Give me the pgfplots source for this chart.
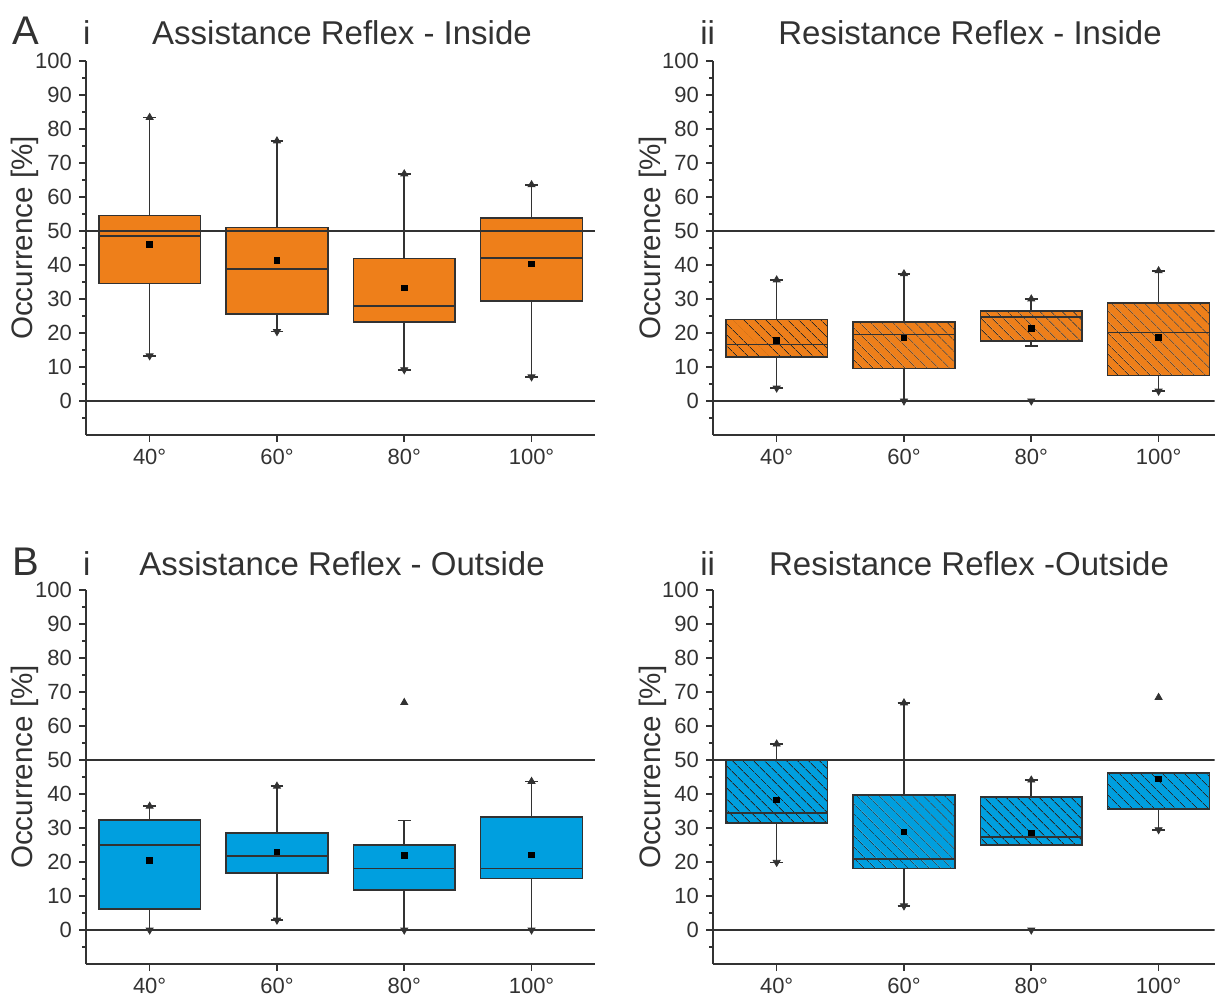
\documentclass[border=0pt]{standalone}
\usepackage{fontspec}
\setmainfont{Liberation Sans}
\usepackage{pgfplots}
\pgfplotsset{compat=1.18}
\usepgfplotslibrary{statistics}
\usetikzlibrary{patterns.meta}

\definecolor{boxorange}{RGB}{238,127,26}
\definecolor{boxblue}{RGB}{0,159,223}
\definecolor{edge}{RGB}{50,50,50}
\definecolor{hatch}{RGB}{40,40,40}

\pgfplotsset{
  panel/.style={
    scale only axis, height=187pt,
    xmin=-0.5, ymin=-10, ymax=100,
    axis x line*=bottom, axis y line*=left,
    axis line style={edge, line width=0.8pt, -},
    every tick/.style={edge, line width=0.8pt},
    tick align=outside, major tick length=3.5pt, minor tick length=2pt,
    xtick={0,1,2,3}, xticklabels={40°,60°,80°,100°},
    ytick={0,10,...,100}, minor ytick={-5,5,...,95},
    ticklabel style={font=\fontsize{11}{13}\selectfont, text=edge},
    /pgf/number format/assume math mode=true,
    ylabel={Occurrence [\%]},
    % the label is rotated, so its own y direction points left
    ylabel style={font=\fontsize{14.8}{17}\selectfont, text=edge,
      at={(rel axis cs:0,0.527)}, anchor=base, yshift=26.5pt},
    boxplot/draw direction=y,
  },
  solidbox/.style={fill=#1, draw=edge, line width=0.8pt},
  hatchbox/.style={fill=#1, draw=edge, line width=0.8pt,
    boxplot/every box/.style={postaction={pattern={Lines[angle=-45,distance=4pt,line width=0.45pt]}, pattern color=hatch}}},
  meanmark/.style={only marks, mark=square*, mark size=1.4pt, black},
  maxmark/.style={only marks, mark=triangle*, mark size=2pt, edge},
  minmark/.style={only marks, mark=triangle*, mark size=2pt, edge, mark options={rotate=180}},
  refline/.style={edge, line width=0.7pt},
}

% box: style, position, lower whisker, lower quartile, median, upper quartile, upper whisker
\newcommand{\bx}[7]{%
  \addplot[#1, boxplot prepared={draw direction=y, draw position=#2, box extend=0.8, whisker extend=0.1,
    lower whisker=#3, lower quartile=#4, median=#5, upper quartile=#6, upper whisker=#7}]
    coordinates {};}

\newcommand{\paneltitle}[4]{%
  \node[anchor=base west, inner sep=0, font=\fontsize{20}{24}\selectfont, text=edge] at (6pt,#1) {#2};
  \node[anchor=base, inner sep=0, font=\fontsize{16.5}{20}\selectfont, text=edge] at (#3,#1) {#4};}

\begin{document}
\begin{tikzpicture}
\useasboundingbox (0,0) rectangle (607.5pt,-499.5pt);

% ---------- A i ----------
\begin{axis}[panel, at={(43pt,-30.5pt)}, anchor=north west, width=254.6pt, xmax=3.5]
  \bx{solidbox=boxorange}{0}{13.3}{34.5}{48.5}{54.5}{83.4}
  \bx{solidbox=boxorange}{1}{20.4}{25.6}{38.8}{51.0}{76.5}
  \bx{solidbox=boxorange}{2}{9.2}{23.3}{28.0}{41.9}{66.8}
  \bx{solidbox=boxorange}{3}{7.1}{29.4}{42.1}{53.8}{63.6}
  \addplot[refline] coordinates {(-0.5,0) (3.5,0)};
  \addplot[refline] coordinates {(-0.5,50) (3.5,50)};
  \addplot[meanmark] coordinates {(0,46.1) (1,41.4) (2,33.3) (3,40.3)};
  \addplot[maxmark] coordinates {(0,83.4) (1,76.5) (2,66.8) (3,63.6)};
  \addplot[minmark] coordinates {(0,13.3) (1,20.4) (2,9.2) (3,7.1)};
\end{axis}

% ---------- A ii ----------
\begin{axis}[panel, at={(356.5pt,-30.5pt)}, anchor=north west, width=250.8pt, xmax=3.44]
  \bx{hatchbox=boxorange}{0}{3.8}{13.0}{16.6}{24.0}{35.6}
  \bx{hatchbox=boxorange}{1}{0}{9.5}{19.5}{23.2}{37.4}
  \bx{hatchbox=boxorange}{2}{16.1}{17.6}{24.7}{26.5}{30.0}
  \bx{hatchbox=boxorange}{3}{2.9}{7.5}{20.1}{28.9}{38.3}
  \addplot[refline] coordinates {(-0.5,0) (3.5,0)};
  \addplot[refline] coordinates {(-0.5,50) (3.5,50)};
  \addplot[meanmark] coordinates {(0,17.9) (1,18.5) (2,21.4) (3,18.7)};
  \addplot[maxmark] coordinates {(0,35.6) (1,37.4) (2,30.0) (3,38.3)};
  \addplot[minmark] coordinates {(0,3.8) (1,0) (2,0) (3,2.9)};
\end{axis}

% ---------- B i ----------
\begin{axis}[panel, at={(43pt,-295pt)}, anchor=north west, width=254.6pt, xmax=3.5]
  \bx{solidbox=boxblue}{0}{0}{6.1}{25.0}{32.4}{36.4}
  \bx{solidbox=boxblue}{1}{2.9}{16.7}{21.8}{28.5}{42.3}
  \bx{solidbox=boxblue}{2}{0}{11.8}{18.1}{25.0}{32.2}
  \bx{solidbox=boxblue}{3}{0}{15.2}{18.1}{33.3}{43.7}
  \addplot[refline] coordinates {(-0.5,0) (3.5,0)};
  \addplot[refline] coordinates {(-0.5,50) (3.5,50)};
  \addplot[meanmark] coordinates {(0,20.4) (1,23.0) (2,21.9) (3,22.1)};
  \addplot[maxmark] coordinates {(0,36.4) (1,42.3) (2,66.9) (3,43.7)};
  \addplot[minmark] coordinates {(0,0) (1,2.9) (2,0) (3,0)};
\end{axis}

% ---------- B ii ----------
\begin{axis}[panel, at={(356.5pt,-295pt)}, anchor=north west, width=250.8pt, xmax=3.44]
  \bx{hatchbox=boxblue}{0}{19.9}{31.4}{34.4}{50.0}{54.7}
  \bx{hatchbox=boxblue}{1}{7.1}{18.1}{20.8}{39.7}{66.8}
  \bx{hatchbox=boxblue}{2}{25.0}{25.0}{27.3}{39.2}{44.1}
  \bx{hatchbox=boxblue}{3}{29.5}{35.6}{35.6}{46.1}{46.1}
  \addplot[refline] coordinates {(-0.5,0) (3.5,0)};
  \addplot[refline] coordinates {(-0.5,50) (3.5,50)};
  \addplot[meanmark] coordinates {(0,38.3) (1,28.9) (2,28.6) (3,44.4)};
  \addplot[maxmark] coordinates {(0,54.7) (1,66.8) (2,44.1) (3,68.4)};
  \addplot[minmark] coordinates {(0,19.9) (1,7.1) (2,0) (3,29.5)};
\end{axis}

% ---------- panel headings ----------
\paneltitle{-22.5pt}{A}{171pt}{Assistance Reflex - Inside}
\node[anchor=base west, inner sep=0, font=\fontsize{16.5}{20}\selectfont, text=edge] at (41.3pt,-22.5pt) {i};
\node[anchor=base, inner sep=0, font=\fontsize{16.5}{20}\selectfont, text=edge] at (485pt,-22.5pt) {Resistance Reflex - Inside};
\node[anchor=base west, inner sep=0, font=\fontsize{16.5}{20}\selectfont, text=edge] at (350pt,-22.5pt) {ii};

\paneltitle{-287.5pt}{B}{171pt}{Assistance Reflex - Outside}
\node[anchor=base west, inner sep=0, font=\fontsize{16.5}{20}\selectfont, text=edge] at (41.3pt,-287.5pt) {i};
\node[anchor=base, inner sep=0, font=\fontsize{16.5}{20}\selectfont, text=edge] at (484.5pt,-287.5pt) {Resistance Reflex -Outside};
\node[anchor=base west, inner sep=0, font=\fontsize{16.5}{20}\selectfont, text=edge] at (350pt,-287.5pt) {ii};
\end{tikzpicture}
\end{document}
